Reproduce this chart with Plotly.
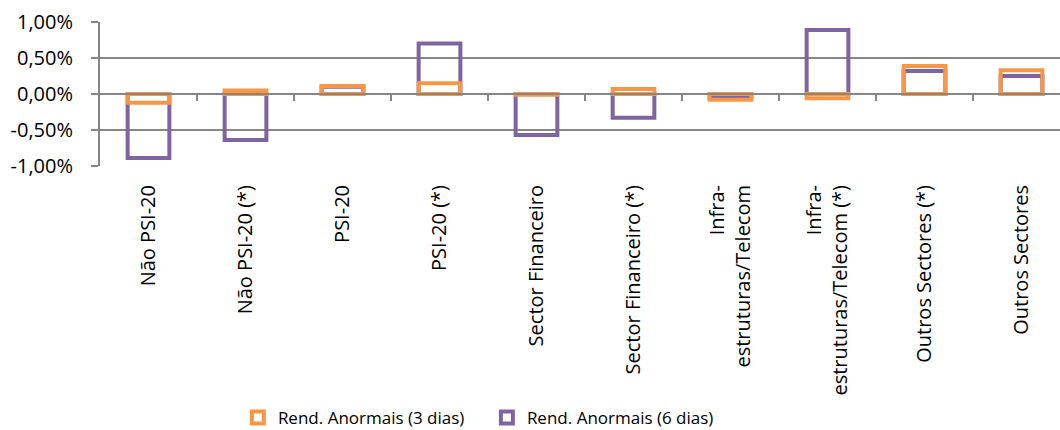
import plotly.graph_objects as go

categories = ["Não PSI-20", "Não PSI-20 (*)", "PSI-20", "PSI-20 (*)", "Sector Financeiro",
              "Sector Financeiro (*)", "Infra-<br>estruturas/Telecom", "Infra-<br>estruturas/Telecom (*)",
              "Outros Sectores (*)", "Outros Sectores"]
rend_3d = [-0.12, 0.05, 0.11, 0.15, -0.01, 0.07, -0.08, -0.06, 0.39, 0.33]
rend_6d = [-0.89, -0.64, 0.10, 0.70, -0.57, -0.33, -0.05, 0.89, 0.32, 0.25]
y_ticks = [-1.0, -0.5, 0.0, 0.5, 1.0]
y_tick_labels = ["-1,00%", "-0,50%", "0,00%", "0,50%", "1,00%"]

ORANGE = "#F79646"
PURPLE = "#8064A2"
GRID = "#868686"
FONT = "Open Sans"

x_idx = list(range(len(categories)))

fig = go.Figure()
fig.add_trace(go.Bar(x=x_idx, y=rend_6d, name="Rend. Anormais (6 dias)", width=0.43,
                     marker=dict(color="rgba(0,0,0,0)", line=dict(color=PURPLE, width=4)),
                     legendrank=2))
fig.add_trace(go.Bar(x=x_idx, y=rend_3d, name="Rend. Anormais (3 dias)", width=0.43,
                     marker=dict(color="rgba(0,0,0,0)", line=dict(color=ORANGE, width=4)),
                     legendrank=1))

# invisible trace to activate the overlaying tick axis at zero
fig.add_trace(go.Scatter(x=[x_idx[0]], y=[0], xaxis="x2", mode="markers",
                         marker=dict(opacity=0), showlegend=False, hoverinfo="skip"))

n = len(categories)
xr = [-0.5, n - 0.5 - (970 - 960) / 97]

fig.update_layout(
    width=1060, height=430,
    margin=dict(l=100, r=0, t=22, b=264),
    paper_bgcolor="white", plot_bgcolor="white",
    barmode="overlay",
    font=dict(family=FONT, size=20, color="black"),
    xaxis=dict(range=xr, tickmode="array", tickvals=x_idx, ticktext=categories,
               tickangle=-90, showgrid=False, zeroline=False, showline=False,
               ticks="", ticklabelstandoff=14, tickfont=dict(family=FONT, size=20)),
    xaxis2=dict(overlaying="x", anchor="free", position=0.5, range=xr,
                tickmode="array", tickvals=[i + 0.5 for i in x_idx[:-1]],
                showticklabels=False, ticks="outside", ticklen=6, tickwidth=2,
                tickcolor=GRID, showline=True, linecolor=GRID, linewidth=2,
                showgrid=False, zeroline=False),
    yaxis=dict(range=[-1.0, 1.0], tickmode="array", tickvals=y_ticks, ticktext=y_tick_labels,
               showgrid=True, gridcolor=GRID, gridwidth=2, zeroline=False,
               showline=True, linecolor=GRID, linewidth=2, ticks="outside",
               ticklen=7, tickwidth=2, tickcolor=GRID, ticklabelstandoff=14,
               tickfont=dict(family=FONT, size=20)),
    legend=dict(orientation="h", x=0.403, xanchor="center", yref="container", y=0.028,
                yanchor="middle", font=dict(family=FONT, size=17), itemwidth=30,
                entrywidth=204, entrywidthmode="pixels", traceorder="normal"),
    showlegend=True,
)

fig.write_html("out.html")
